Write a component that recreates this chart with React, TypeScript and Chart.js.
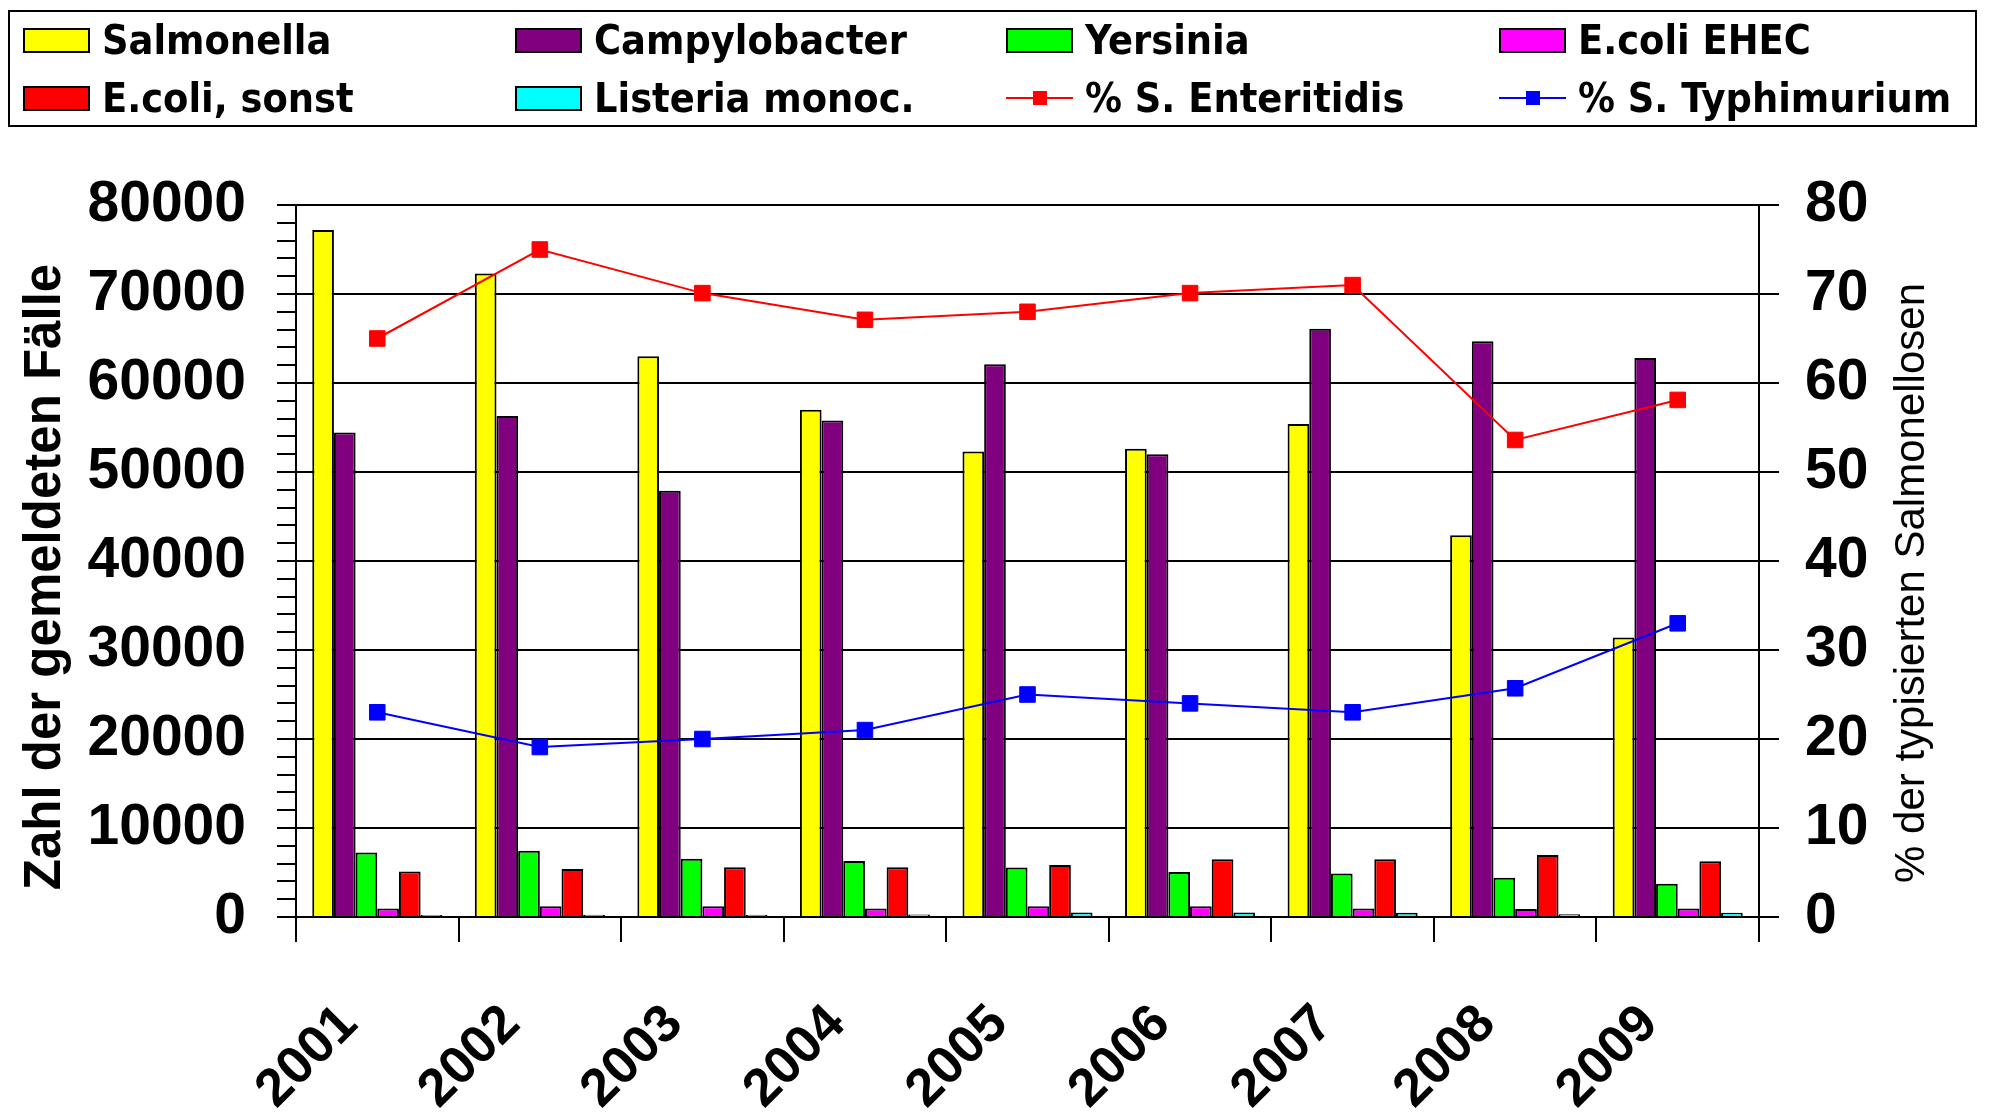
import React, { useEffect, useRef } from 'react';
import { Chart, registerables } from 'chart.js';

Chart.register(...registerables);

// ---------- data ----------
const years = ['2001', '2002', '2003', '2004', '2005', '2006', '2007', '2008', '2009'];
const salmonella = [77200, 72300, 63000, 57000, 52300, 52600, 55400, 42900, 31400];
const campylobacter = [54450, 56300, 47900, 55800, 62100, 52000, 66100, 64700, 62800];
const yersinia = [7250, 7450, 6550, 6300, 5550, 5050, 4900, 4400, 3750];
const ehec = [950, 1200, 1200, 950, 1200, 1200, 950, 900, 950];
const ecoliSonst = [5100, 5380, 5600, 5600, 5850, 6480, 6480, 6970, 6260];
const listeria = [230, 240, 250, 290, 500, 500, 470, 300, 480];
const pctEnteritidis = [65, 75, 70.1, 67.1, 68, 70.1, 71, 53.6, 58.1];
const pctTyphimurium = [23, 19.1, 20, 21, 25, 24, 23, 25.7, 33];

const leftTicksMax = 80000;
const rightTicksMax = 80;
const leftTitle = 'Zahl der gemeldeten Fälle';
const rightTitle = '% der typisierten Salmonellosen';

type LegendItem = { label: string; color: string; kind: 'box' | 'line' };
const legendRow1: LegendItem[] = [
  { label: 'Salmonella', color: '#FFFF00', kind: 'box' },
  { label: 'Campylobacter', color: '#800080', kind: 'box' },
  { label: 'Yersinia', color: '#00FF00', kind: 'box' },
  { label: 'E.coli EHEC', color: '#FF00FF', kind: 'box' },
];
const legendRow2: LegendItem[] = [
  { label: 'E.coli, sonst', color: '#FF0000', kind: 'box' },
  { label: 'Listeria monoc.', color: '#00FFFF', kind: 'box' },
  { label: '% S. Enteritidis', color: '#FF0000', kind: 'line' },
  { label: '% S. Typhimurium', color: '#0000FF', kind: 'line' },
];

const W = 1989;
const H = 1117;
const PLOT_LEFT = 296;
const PLOT_RIGHT = 1759;
const PLOT_TOP = 205;
const PLOT_BOTTOM = 917;

const tickFont = { family: '"Liberation Sans", Arial, sans-serif', size: 57, weight: 'bold' as const };

function LegendEntry({ item, x, cy }: { item: LegendItem; x: number; cy: number }) {
  const h = 50;
  return (
    <div
      style={{
        position: 'absolute',
        left: x,
        top: cy - h / 2,
        height: h,
        display: 'flex',
        alignItems: 'center',
        whiteSpace: 'nowrap',
      }}
    >
      {item.kind === 'box' ? (
        <div
          style={{
            width: 67,
            height: 25,
            boxSizing: 'border-box',
            background: item.color,
            border: '2px solid #000',
          }}
        />
      ) : (
        <div style={{ width: 67, height: 25, position: 'relative' }}>
          <div
            style={{
              position: 'absolute',
              left: 0,
              top: 11,
              width: 67,
              height: 2,
              background: item.color,
            }}
          />
          <div
            style={{
              position: 'absolute',
              left: 27,
              top: 5,
              width: 14,
              height: 14,
              background: item.color,
            }}
          />
        </div>
      )}
      <span
        style={{
          marginLeft: 12,
          fontFamily: '"DejaVu Sans Condensed", "DejaVu Sans", sans-serif',
          fontStretch: 'condensed',
          fontWeight: 'bold',
          fontSize: 41,
          color: '#000',
        }}
      >
        {item.label}
      </span>
    </div>
  );
}

export default function App() {
  const canvasRef = useRef<HTMLCanvasElement>(null);

  useEffect(() => {
    const canvas = canvasRef.current;
    if (!canvas) return;

    const titlePlugin = {
      id: 'axisTitlesCustom',
      afterDraw(chart: any) {
        const c = chart.ctx as CanvasRenderingContext2D;
        c.save();
        c.fillStyle = '#000';
        c.textAlign = 'center';
        c.textBaseline = 'alphabetic';
        c.font = 'bold 51px "Liberation Sans", Arial, sans-serif';
        c.translate(60, 577);
        c.rotate(-Math.PI / 2);
        c.fillText(leftTitle, 0, 0);
        c.restore();

        c.save();
        c.fillStyle = '#000';
        c.textAlign = 'center';
        c.textBaseline = 'alphabetic';
        c.font = '42px "Liberation Sans", Arial, sans-serif';
        c.translate(1924, 583);
        c.rotate(-Math.PI / 2);
        c.fillText(rightTitle, 0, 0);
        c.restore();
      },
    };

    const barCommon = {
      type: 'bar' as const,
      borderColor: '#000',
      borderWidth: 2,
      categoryPercentage: 0.8,
      barPercentage: 1.0,
      yAxisID: 'y',
      order: 1,
    };

    const lineCommon = {
      type: 'line' as const,
      yAxisID: 'y1',
      borderWidth: 2,
      pointStyle: 'rect' as const,
      pointRadius: 11,
      pointBorderWidth: 1,
      tension: 0,
      fill: false,
      order: 0,
    };

    const chart = new Chart(canvas, {
      type: 'bar',
      data: {
        labels: years,
        datasets: [
          { ...barCommon, label: 'Salmonella', data: salmonella, backgroundColor: '#FFFF00' },
          { ...barCommon, label: 'Campylobacter', data: campylobacter, backgroundColor: '#800080' },
          { ...barCommon, label: 'Yersinia', data: yersinia, backgroundColor: '#00FF00' },
          { ...barCommon, label: 'E.coli EHEC', data: ehec, backgroundColor: '#FF00FF' },
          { ...barCommon, label: 'E.coli, sonst', data: ecoliSonst, backgroundColor: '#FF0000' },
          { ...barCommon, label: 'Listeria monoc.', data: listeria, backgroundColor: '#00FFFF' },
          {
            ...lineCommon,
            label: '% S. Enteritidis',
            data: pctEnteritidis,
            borderColor: '#FF0000',
            backgroundColor: '#FF0000',
            pointBackgroundColor: '#FF0000',
            pointBorderColor: '#FF0000',
          },
          {
            ...lineCommon,
            label: '% S. Typhimurium',
            data: pctTyphimurium,
            borderColor: '#0000FF',
            backgroundColor: '#0000FF',
            pointBackgroundColor: '#0000FF',
            pointBorderColor: '#0000FF',
          },
        ] as any,
      },
      options: {
        responsive: false,
        animation: false,
        events: [],
        layout: { padding: { top: PLOT_TOP, left: 0, right: 0, bottom: 0 } },
        plugins: {
          legend: { display: false },
          tooltip: { enabled: false },
          title: { display: false },
        },
        scales: {
          x: {
            type: 'category',
            offset: true,
            grid: {
              display: true,
              drawOnChartArea: false,
              offset: true,
              tickLength: 25,
              tickColor: '#000',
              lineWidth: 2,
              color: '#000',
            },
            border: { display: true, color: '#000', width: 2 },
            ticks: {
              color: '#000',
              font: { family: '"Liberation Sans", Arial, sans-serif', size: 53, weight: 'bold' },
              minRotation: 45,
              maxRotation: 45,
              autoSkip: false,
              padding: 51,
              labelOffset: -28,
            },
            afterFit(scale: any) {
              scale.height = H - PLOT_BOTTOM;
            },
          },
          y: {
            type: 'linear',
            position: 'left',
            min: 0,
            max: leftTicksMax,
            grid: {
              display: true,
              drawOnChartArea: true,
              tickLength: 19,
              lineWidth: 2,
              color: (ctx: any) =>
                ctx.tick && ctx.tick.value % 10000 === 0 ? '#000' : 'rgba(0,0,0,0)',
              tickColor: '#000',
            },
            border: { display: true, color: '#000', width: 2 },
            ticks: {
              stepSize: 2000,
              autoSkip: false,
              color: '#000',
              font: tickFont,
              padding: 31,
              callback: (v: any) => (Number(v) % 10000 === 0 ? String(v) : ''),
            },
            afterFit(scale: any) {
              scale.width = PLOT_LEFT;
            },
          },
          y1: {
            type: 'linear',
            position: 'right',
            min: 0,
            max: rightTicksMax,
            grid: {
              display: true,
              drawOnChartArea: false,
              tickLength: 20,
              lineWidth: 2,
              color: '#000',
              tickColor: '#000',
            },
            border: { display: true, color: '#000', width: 2 },
            ticks: {
              stepSize: 10,
              autoSkip: false,
              color: '#000',
              font: tickFont,
              padding: 26,
            },
            afterFit(scale: any) {
              scale.width = W - PLOT_RIGHT;
            },
          },
        },
      } as any,
      plugins: [titlePlugin],
    });

    return () => {
      chart.destroy();
    };
  }, []);

  const colX = [23, 515, 1006, 1499];
  const rowY = [40, 98];

  return (
    <div
      style={{
        position: 'fixed',
        left: 0,
        top: 0,
        width: W,
        height: H,
        background: '#fff',
        overflow: 'hidden',
      }}
    >
      <canvas
        ref={canvasRef}
        width={W}
        height={H}
        style={{ position: 'absolute', left: 0, top: 0, width: W, height: H }}
      />
      <div
        style={{
          position: 'absolute',
          left: 8,
          top: 10,
          width: 1969,
          height: 117,
          boxSizing: 'border-box',
          border: '2px solid #000',
        }}
      />
      {legendRow1.map((it, i) => (
        <LegendEntry key={'r1' + i} item={it} x={colX[i]} cy={rowY[0]} />
      ))}
      {legendRow2.map((it, i) => (
        <LegendEntry key={'r2' + i} item={it} x={colX[i]} cy={rowY[1]} />
      ))}
    </div>
  );
}
